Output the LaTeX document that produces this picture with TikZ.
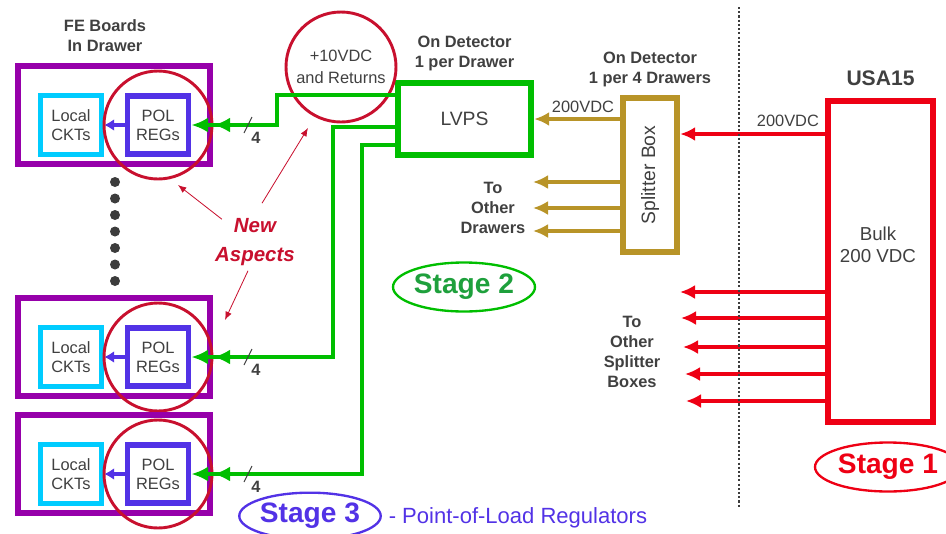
\documentclass[tikz,border=0pt]{standalone}
\usepackage{fontspec}
\setmainfont{Liberation Sans}
\usepackage{graphicx}
\usepackage{tikz}
\usetikzlibrary{shapes.geometric, arrows.meta, positioning}
\definecolor{drawerpurple}{RGB}{150, 0, 170}
\definecolor{cktcyan}{RGB}{0, 204, 255}
\definecolor{polblue}{RGB}{82, 50, 230}
\definecolor{ringred}{RGB}{200, 16, 46}
\definecolor{lvpsgreen}{RGB}{0, 190, 0}
\definecolor{stagegreen}{RGB}{30, 160, 60}
\definecolor{splitgold}{RGB}{184, 148, 40}
\definecolor{bulkred}{RGB}{238, 0, 20}
\definecolor{textgray}{RGB}{64, 64, 64}
\definecolor{dotgray}{RGB}{60, 60, 60}

\begin{document}
\begin{tikzpicture}[
    x=0.3mm, y=-0.3mm,
    font=\fontsize{14}{16}\selectfont,
    every node/.append style={text=textgray},
    drawer/.style={draw=drawerpurple, line width=5.5pt, minimum width=57.6mm, minimum height=29.4mm},
    ckt/.style={draw=cktcyan, line width=4.5pt, minimum width=18.3mm, minimum height=17.7mm,
                inner sep=0pt, align=center},
    polreg/.style={draw=polblue, line width=5pt, minimum width=18.3mm, minimum height=17.4mm,
                   inner sep=0pt, align=center},
    ring/.style={circle, draw=ringred, line width=2.5pt, inner sep=0pt, minimum size=32.4mm},
    powerbox/.style={line width=5.5pt, fill=white, inner sep=0pt, align=center},
    heading/.style={font=\bfseries\fontsize{14}{17}\selectfont, inner sep=0pt, align=center},
    stagelabel/.style={ellipse, line width=2pt, inner sep=0pt, font=\bfseries\fontsize{24}{28}\selectfont},
    volts/.style={inner sep=0pt},
    lvwire/.style={draw=lvpsgreen, line width=3.5pt,
                   -{Latex[length=5mm,width=4.5mm,sep=1.6mm]Latex[length=5mm,width=4.5mm]}},
    polfeed/.style={draw=polblue, line width=2.8pt, -{Latex[length=3mm,width=3.6mm]}},
    goldfeed/.style={draw=splitgold, line width=3.5pt, -{Latex[length=4.5mm,width=4.2mm]}},
    redfeed/.style={draw=bulkred, line width=3.5pt, -{Latex[length=4.5mm,width=4.2mm]}},
    pointer/.style={draw=ringred, line width=0.7pt, -{Latex[length=2.5mm,width=2mm]}},
    slashmark/.style={draw=textgray, line width=0.8pt}
]
\useasboundingbox (0,0) rectangle (946,533);

\foreach \i/\y in {1/115, 2/347, 3/464} {
    \node[drawer] (drawer\i) at (114,\y) {};
    \node[ckt] (ckt\i) at (71,\y+10) {Local\\CKTs};
    \node[polreg] (pol\i) at (158,\y+10) {POL\\REGs};
    \draw[polfeed] (pol\i) -- (ckt\i);
    \node[ring] (ring\i) at (pol\i) {};
}
\foreach \k in {0,...,6}
    \fill[dotgray] (115,182+16.5*\k) circle[radius=1.5mm];
\node[heading, above=3.3mm of drawer1, xshift=-2.7mm] (fetitle) {FE Boards\\In Drawer};

\node[powerbox, draw=lvpsgreen, minimum width=39.9mm, minimum height=21.6mm,
      font=\fontsize{16.5}{19}\selectfont] (lvps) at (464.5,119) {LVPS};
\node[heading, above=2.7mm of lvps] (lvpstitle) {On Detector\\1 per Drawer};
\node[ring, minimum size=33mm, font=\fontsize{14}{19}\selectfont, align=center] (retring) at (341,67) {+10VDC\\and Returns};

\node[powerbox, draw=splitgold, minimum width=16.2mm, minimum height=46.2mm,
      font=\fontsize{16.5}{19}\selectfont] (split) at (650,175) {\rotatebox{90}{Splitter Box}};
\node[heading, above=2.4mm of split] (splittitle) {On Detector\\1 per 4 Drawers};

\node[powerbox, draw=bulkred, minimum width=31.5mm, minimum height=96.3mm] (bulk) at (880.5,261.5) {};
\node[font=\fontsize{16}{19}\selectfont, align=center] (bulktext) at (878,245) {Bulk\\200 VDC};
\node[heading, font=\bfseries\fontsize{18}{21}\selectfont, above=3.6mm of bulk] (usa) {USA15};

\coordinate (bend1) at (277,95);
\coordinate (bend2) at (333,127);
\coordinate (bend3) at (362,145);
\draw[lvwire] (lvps.west |- bend1) -- (bend1) |- (pol1.east);
\draw[lvwire] (lvps.west |- bend2) -- (bend2) |- (pol2.east);
\draw[lvwire] (lvps.west |- bend3) -- (bend3) |- (pol3.east);

\coordinate (slashx) at (248,0);
\foreach \i in {1,2,3} {
    \coordinate (slash\i) at (pol\i.east -| slashx);
    \draw[slashmark] ([shift={(-4,8)}]slash\i) -- ([shift={(4,-8)}]slash\i);
    \node[heading, font=\bfseries\fontsize{14}{16}\selectfont] (count\i) at ([shift={(8,13)}]slash\i) {4};
}

\draw[goldfeed] (split.west |- lvps.east) -- node[volts, above=1.2mm, pos=0.43] (lvpsvolts) {200VDC} (lvps.east);
\foreach \i/\y in {1/182, 2/208, 3/231} {
    \coordinate (drawers\i) at (533,\y);
    \draw[goldfeed] (split.west |- drawers\i) -- (drawers\i);
}
\node[heading] (otherdrawers) at (493,208) {To\\Other\\Drawers};

\coordinate (splitfeed) at (760,134);
\draw[redfeed] (bulk.west |- splitfeed) -- node[volts, above=1.5mm, pos=0.255] (bulkvolts) {200VDC} (split.east |- splitfeed);
\foreach \i/\x/\y in {1/680/292, 2/681/318, 3/683/347, 4/685/374, 5/686/401} {
    \coordinate (boxes\i) at (\x,\y);
    \draw[redfeed] (bulk.west |- boxes\i) -- (boxes\i);
}
\node[heading] (otherboxes) at (632,352) {To\\Other\\Splitter\\Boxes};

\coordinate (divtop) at (739,7);
\coordinate (divbot) at (739,507);
\draw[dotgray, line width=2.3pt, dash pattern=on 1.8pt off 1.8pt] (divtop) -- (divbot);

\node[font=\bfseries\itshape\fontsize{17.5}{24.5}\selectfont, text=ringred, align=center, inner sep=0pt] (newasp) at (255,242) {New\\Aspects};
\coordinate (aimring) at (178,185);
\coordinate (aimreturn) at (308,128);
\coordinate (aimdrawer) at (225,320);
\draw[pointer] ([shift={(7,1)}]newasp.north west) -- (aimring);
\draw[pointer] ([shift={(7,-15)}]newasp.north) -- (aimreturn);
\draw[pointer] ([shift={(-7,5)}]newasp.south) -- (aimdrawer);

\node[stagelabel, draw=lvpsgreen, text=stagegreen, minimum width=42.6mm, minimum height=14.7mm] (stage2) at (464,287) {Stage 2};
\node[stagelabel, draw=polblue, text=polblue, minimum width=42mm, minimum height=14mm] (stage3) at (310,516) {Stage 3};
\node[right=2mm of stage3, yshift=-0.5mm, text=polblue, inner sep=0pt, font=\fontsize{18.8}{22}\selectfont] (polnote) {- Point-of-Load Regulators};
\node[stagelabel, draw=bulkred, text=bulkred, minimum width=43.8mm, minimum height=14.7mm] (stage1) at (888,467) {Stage 1};
\end{tikzpicture}
\end{document}
